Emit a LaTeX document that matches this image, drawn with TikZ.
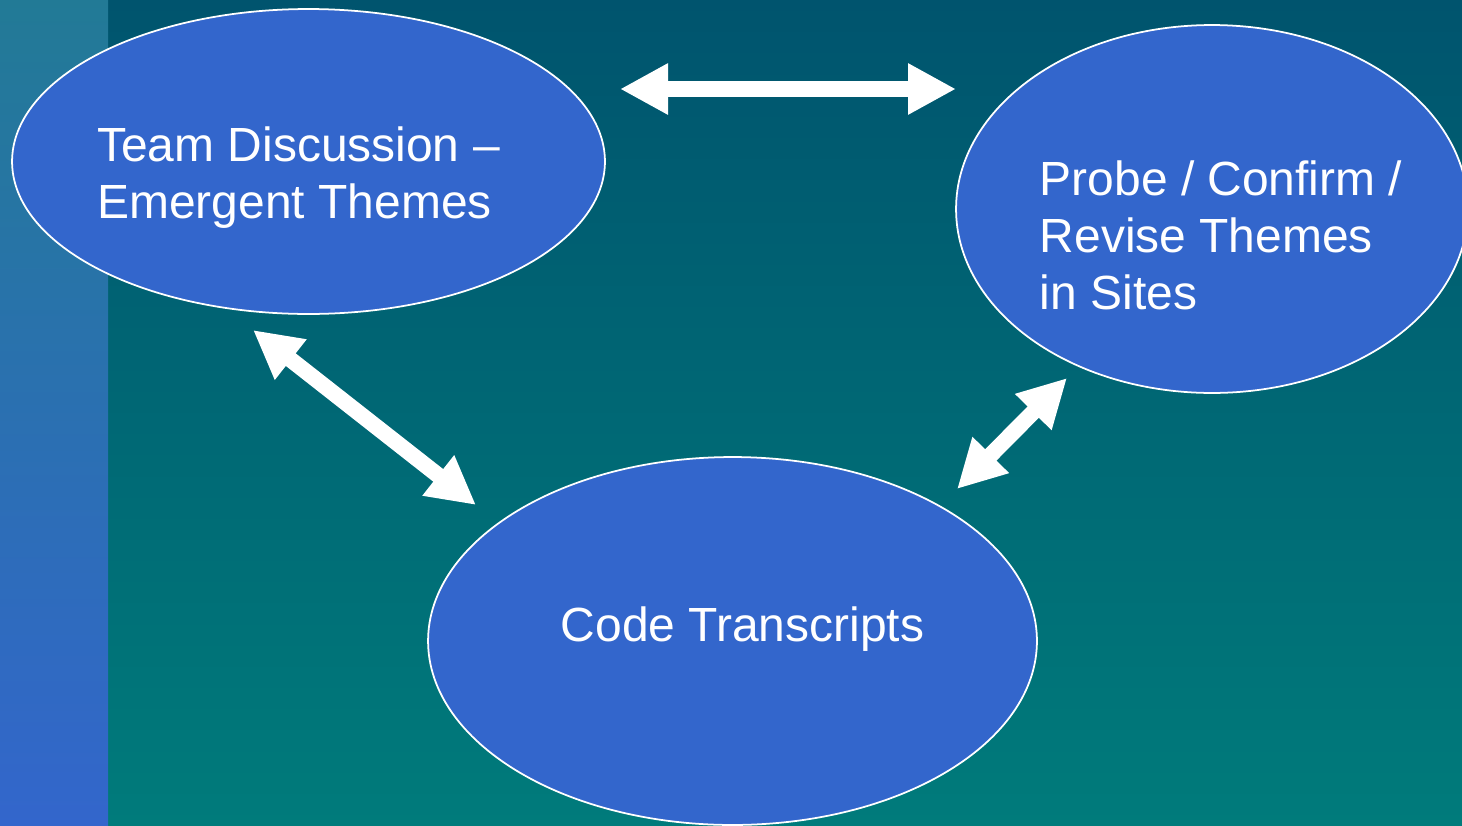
\documentclass[tikz,border=0pt]{standalone}
\usepackage{fontspec}
\setmainfont{Liberation Sans}
\usepackage{pgf,tikz}
\usetikzlibrary{arrows.meta,shapes.geometric}

\definecolor{stripTop}{RGB}{34,122,150}
\definecolor{stripBottom}{RGB}{51,102,204}
\definecolor{backTop}{RGB}{0,84,110}
\definecolor{backBottom}{RGB}{0,123,123}
\definecolor{bubbleBlue}{RGB}{51,102,204}

\begin{document}
\begin{tikzpicture}[x=0.02cm, y=-0.02cm,
    bubble/.style={ellipse, draw=white, line width=1pt, fill=bubbleBlue, inner sep=0pt},
    bubbletext/.style={text=white, align=left, inner sep=0pt, font=\fontsize{27.3pt}{32.4pt}\selectfont},
    biarrow/.style={draw=white, line width=0.32cm, {Triangle[length=0.96cm,width=0.96cm]}-{Triangle[length=0.96cm,width=0.96cm]}}]
    \useasboundingbox (0,0) rectangle (1462,825);
    \clip (0,0) rectangle (1462,825);
    % background
    \shade[top color=backTop, bottom color=backBottom] (0,0) rectangle (1462,825);
    \shade[top color=stripTop, bottom color=stripBottom] (0,0) rectangle (108,825);
    % the three stages
    \node[bubble, minimum width=11.86cm, minimum height=6.1cm,
      label={[bubbletext, xshift=-0.2cm, yshift=-0.32cm]center:{Team Discussion --\\Emergent Themes}}] (team) at (308.5,161.5) {};
    \node[bubble, minimum width=10.24cm, minimum height=7.36cm,
      label={[bubbletext, xshift=0.18cm, yshift=-0.52cm]center:{Probe / Confirm /\\Revise Themes\\in Sites}}] (probe) at (1212,209) {};
    \node[bubble, minimum width=12.18cm, minimum height=7.36cm,
      label={[bubbletext, xshift=0.2cm, yshift=0.24cm]center:{Code Transcripts}}] (code) at (732.5,641) {};
    % arrow ends
    \coordinate (team-east) at (620,89);
    \coordinate (probe-west) at (956,89);
    \coordinate (team-south) at (253,330);
    \coordinate (code-north) at (476,505);
    \coordinate (code-east) at (957,489);
    \coordinate (probe-south) at (1067,378);
    \draw[biarrow] (team-east) -- (probe-west);
    \draw[biarrow] (team-south) -- (code-north);
    \draw[biarrow] (code-east) -- (probe-south);
\end{tikzpicture}
\end{document}
